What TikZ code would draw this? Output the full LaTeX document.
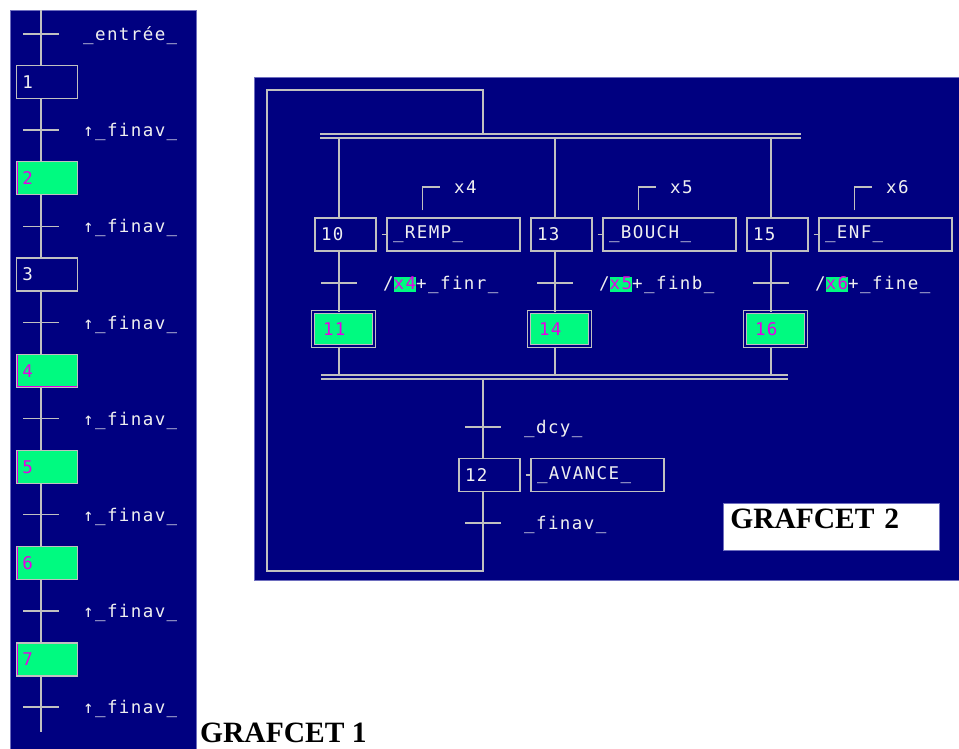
\documentclass[tikz,border=0pt]{standalone}
\usepackage{fontspec}
\usetikzlibrary{positioning,calc}
\newfontfamily\pixfont[LetterSpace=8]{DejaVu Sans Mono}
\newfontfamily\titlefont{Liberation Serif}
\newcommand{\pixtext}{\pixfont\fontsize{17.5}{17.5}\selectfont}
\definecolor{panelblue}{RGB}{0,0,128}
\definecolor{panelline}{RGB}{110,110,190}
\definecolor{wiregray}{RGB}{192,192,192}
\definecolor{actgreen}{RGB}{0,250,128}
\definecolor{stepmag}{RGB}{230,0,230}
\definecolor{pixwhite}{RGB}{240,240,240}
\newcommand{\varhl}[1]{{\setlength{\fboxsep}{0pt}\colorbox{actgreen}{\rule[-2pt]{0pt}{14pt}\textcolor{stepmag}{#1}}}}

\begin{document}
\begin{tikzpicture}[x=1pt, y=-1pt,
    wire/.style={draw=wiregray, line width=1.4pt},
    bar/.style={draw=wiregray, line width=1.4pt, double=panelblue, double distance=2.6pt},
    stepbox/.style={draw=wiregray, line width=1.3pt, fill=panelblue, text=pixwhite, font=\pixtext,
        minimum height=33pt, text width=49pt, inner xsep=6pt, inner ysep=0pt, align=left},
    actstep/.style={stepbox, fill=actgreen, text=stepmag,
        path picture={\draw[stepmag, line width=2pt] (path picture bounding box.north west) |- (path picture bounding box.south east);}},
    dblstep/.style={actstep, line width=1pt, double=panelblue, double distance=2pt,
        minimum height=34pt, text width=41pt, inner xsep=10pt},
    actbox/.style={stepbox, text width=121pt},
    tick/.style={minimum width=35pt, minimum height=0pt, inner sep=0pt},
    cond/.style={text=pixwhite, font=\pixtext, anchor=west, inner sep=0pt},
    title/.style={font=\titlefont\bfseries\fontsize{29.5}{29.5}\selectfont, inner sep=0pt}
]
\useasboundingbox (0,0) rectangle (959,749);

% GRAFCET 1
\fill[panelblue, draw=panelline] (10,10) rectangle (196,749);
\coordinate (g1top) at (41,10);
\coordinate (g1bot) at (41,732);
\foreach \i in {0,...,7}
  \node[tick] (t\i) at (41,{34+\i*96.14}) {};
\foreach \i/\st in {1/stepbox,2/actstep,3/stepbox,4/actstep,5/actstep,6/actstep,7/actstep}
  \node[\st] (s\i) at (47,{82+(\i-1)*96.25}) {\i};

\node[cond] (c0) at (83,36) {\_entrée\_};
\foreach \i in {1,...,7}
  \node[cond] (c\i) at (83,{36+\i*96.14}) {↑\_finav\_};

\draw[wire] (g1top) -- (s1.north -| g1top);
\foreach \i [count=\j from 2] in {1,...,6}
  \draw[wire] (s\i.south -| g1top) -- (s\j.north -| g1top);
\draw[wire] (s7.south -| g1top) -- (g1bot);
\foreach \i in {0,...,7}
  \draw[wire] (t\i.west) -- (t\i.east);

\node[title, anchor=base west] (g1) at (200,742) {GRAFCET 1};

% GRAFCET 2
\fill[panelblue, draw=panelline] (254,77) rectangle (959,580);
\coordinate (divL) at (320,136);
\coordinate (divR) at (801,136);
\coordinate (joinL) at (321,377);
\coordinate (joinR) at (788,377);
\draw[bar] (divL) -- (divR);
\draw[bar] (joinL) -- (joinR);

\foreach \col/\top/\act/\var/\bot/\cnd in {339/10/REMP/4/11/finr, 555/13/BOUCH/5/14/finb, 771/15/ENF/6/16/fine} {
  \coordinate (br\top) at (\col,138);
  \coordinate (bj\top) at (\col,375);
  \node[stepbox] (s\top) at (\col+6.5,234.5) {\top};
  \node[actbox] (a\top) at (\col+114.5,234.5) {\_\act\_};
  \node[cond] (v\top) at (\col+115,187) {x\var};
  \node[tick] (t\top) at (\col,283) {};
  \node[cond] (c\top) at (\col+44,285) {/\varhl{x\var}+\_\cnd\_};
  \node[dblstep] (s\bot) at (\col+4.5,329) {\bot};
  \draw[wire] (br\top) -- (s\top.north -| br\top);
  \draw[wire] (s\top.south -| br\top) -- (s\bot.north -| br\top);
  \draw[wire] (s\bot.south -| br\top) -- (bj\top);
  \draw[wire] (t\top.west) -- (t\top.east);
  \draw[wire] ([xshift=5pt]s\top.east) -- (a\top.west);
  \draw[wire] ([xshift=36pt,yshift=7pt]a\top.north west) |- ([xshift=-14pt]v\top.west);
}

\coordinate (j12) at (483,379);
\coordinate (lp1) at (483,134);
\coordinate (g2bot) at (483,571);
\coordinate (g2left) at (267,90);
\node[tick] (tdcy) at (483,427) {};
\node[tick] (tfin) at (483,523) {};
\node[stepbox] (s12) at (489.5,475) {12};
\node[actbox] (a12) at (597.5,475) {\_AVANCE\_};
\node[cond] (cdcy) at (524,429) {\_dcy\_};
\node[cond] (cfin) at (524,525) {\_finav\_};

\draw[wire] (j12) -- (s12.north -| j12);
\draw[wire] ([xshift=5pt]s12.east) -- (a12.west);
\draw[wire] (tdcy.west) -- (tdcy.east);
\draw[wire] (tfin.west) -- (tfin.east);
\draw[wire] (s12.south -| j12) -- (g2bot) -| (g2left) -| (lp1);

\node[title, draw=panelline, line width=0.6pt, fill=white, anchor=north west,
      text width=202pt, inner xsep=7pt, inner ysep=5pt, text height=20.5pt, text depth=16.5pt,
      align=left] (g2) at (723,503) {GRAFCET 2};
\end{tikzpicture}
\end{document}
